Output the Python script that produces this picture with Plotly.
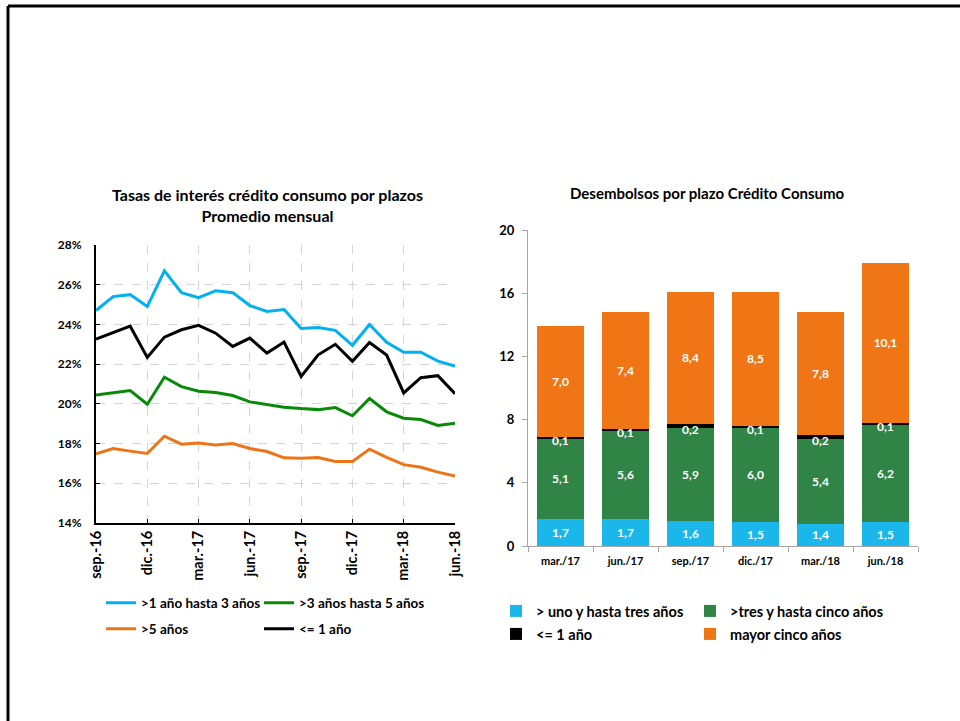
import plotly.graph_objects as go

# ---------------- Data ----------------
months = ["sep.-16", "oct.-16", "nov.-16", "dic.-16", "ene.-17", "feb.-17", "mar.-17",
          "abr.-17", "may.-17", "jun.-17", "jul.-17", "ago.-17", "sep.-17", "oct.-17",
          "nov.-17", "dic.-17", "ene.-18", "feb.-18", "mar.-18", "abr.-18", "may.-18", "jun.-18"]

rate_1a3 = [24.7, 25.4, 25.5, 24.9, 26.7, 25.6, 25.35, 25.7, 25.6, 24.95, 24.65, 24.75,
            23.8, 23.85, 23.7, 22.95, 24.0, 23.1, 22.6, 22.6, 22.15, 21.9]
rate_3a5 = [20.45, 20.57, 20.67, 19.98, 21.34, 20.87, 20.64, 20.57, 20.42, 20.1, 19.98, 19.83,
            19.76, 19.71, 19.81, 19.4, 20.27, 19.6, 19.28, 19.21, 18.91, 19.03]
rate_5 = [17.48, 17.75, 17.62, 17.5, 18.37, 17.97, 18.03, 17.93, 18.0, 17.75, 17.6, 17.28,
          17.26, 17.3, 17.1, 17.1, 17.72, 17.3, 16.94, 16.81, 16.56, 16.37]
rate_le1 = [23.26, 23.6, 23.91, 22.34, 23.36, 23.73, 23.95, 23.56, 22.89, 23.31, 22.56, 23.11,
            21.38, 22.47, 23.0, 22.14, 23.09, 22.46, 20.55, 21.32, 21.42, 20.51]

left_ticks = months[::3]
left_yticks = [14, 16, 18, 20, 22, 24, 26, 28]
left_ytext = [f"{v}%" for v in left_yticks]

quarters = ["mar./17", "jun./17", "sep./17", "dic./17", "mar./18", "jun./18"]
d_1a3 = [1.7, 1.7, 1.6, 1.5, 1.4, 1.5]
d_3a5 = [5.1, 5.6, 5.9, 6.0, 5.4, 6.2]
d_le1 = [0.1, 0.1, 0.2, 0.1, 0.2, 0.1]
d_5 = [7.0, 7.4, 8.4, 8.5, 7.8, 10.1]
right_yticks = [0, 4, 8, 12, 16, 20]

# ---------------- Style ----------------
FONT = "Lato, 'Open Sans', sans-serif"
BLUE = "#00B0F0"
GREEN = "#088A08"
ORANGE = "#EE7418"
BLACK = "#000000"
BAR_BLUE = "#1BB7EA"
BAR_GREEN = "#2F8446"
BAR_ORANGE = "#F07514"

W, H = 960, 721


def px_x(p):
    return p / W


def px_y(p):
    return 1 - p / H


fig = go.Figure()

# Left chart lines (each in its own legend box, laid out in a 2x2 grid)
left_series = [(">1 año hasta 3 años", rate_1a3, BLUE, "legend", 101, 603),
               (">3 años hasta 5 años", rate_3a5, GREEN, "legend2", 259, 603),
               (">5 años", rate_5, ORANGE, "legend3", 101, 629),
               ("<= 1 año", rate_le1, BLACK, "legend4", 259, 629)]
for name, vals, col, lg, _, _ in left_series:
    fig.add_trace(go.Scatter(x=months, y=vals, name=name, mode="lines",
                             line=dict(color=col, width=3),
                             xaxis="x", yaxis="y", legend=lg))

# Right chart stacked bars
bar_text_font = dict(color="white", size=12, family=FONT, weight="bold")
right_series = [("> uno y hasta tres años", d_1a3, BAR_BLUE, True, "legend5", 496, 611),
                (">tres y hasta cinco años", d_3a5, BAR_GREEN, True, "legend6", 690, 611),
                ("<= 1 año", d_le1, BLACK, False, "legend7", 496, 634),
                ("mayor cinco años", d_5, BAR_ORANGE, True, "legend8", 690, 634)]
for name, vals, col, show, lg, _, _ in right_series:
    fig.add_trace(go.Bar(x=quarters, y=vals, name=name,
                         marker=dict(color=col, line=dict(width=0)),
                         text=[f"{v:.1f}".replace(".", ",") for v in vals] if show else None,
                         textposition="inside" if show else "none",
                         insidetextanchor="middle",
                         textfont=bar_text_font,
                         constraintext="none",
                         xaxis="x2", yaxis="y2", legend=lg))

# Labels for the thin black segments
for q, a, b, c in zip(quarters, d_1a3, d_3a5, d_le1):
    fig.add_annotation(x=q, y=a + b, xref="x2", yref="y2", text=f"{c:.1f}".replace(".", ","),
                       showarrow=False, yshift=-2,
                       font=dict(color="white", size=12, family=FONT, weight="bold"))

legend_layout = {}
for s in left_series:
    legend_layout[s[3]] = dict(orientation="v", x=px_x(s[4]), y=px_y(s[5]),
                               xanchor="left", yanchor="middle",
                               font=dict(family=FONT, size=13.5, color="black", weight="bold"),
                               bgcolor="rgba(0,0,0,0)", itemwidth=30, borderwidth=0)
for s in right_series:
    legend_layout[s[4]] = dict(orientation="v", x=px_x(s[5]), y=px_y(s[6]),
                               xanchor="left", yanchor="middle",
                               font=dict(family=FONT, size=14.5, color="black", weight="bold"),
                               bgcolor="rgba(0,0,0,0)", itemwidth=30, borderwidth=0)

fig.update_layout(
    width=W, height=H,
    margin=dict(l=0, r=0, t=0, b=0),
    paper_bgcolor="white", plot_bgcolor="white",
    font=dict(family=FONT, color="black"),
    barmode="stack", bargap=0.28,
    separators=",.",
    showlegend=True,
    xaxis=dict(domain=[px_x(96), px_x(455)], type="category", range=[0, len(months) - 1],
               tickmode="array", tickvals=left_ticks, ticktext=left_ticks,
               tickangle=-90, tickfont=dict(family=FONT, size=14.5, color="black", weight="bold"),
               showline=True, linecolor="black", linewidth=2,
               ticks="inside", ticklen=4, tickcolor="black", tickwidth=1,
               showgrid=True, gridcolor="#D5D5D5", griddash="dash", gridwidth=1,
               automargin=False, anchor="y"),
    yaxis=dict(domain=[px_y(523), px_y(245)], range=[14, 28],
               tickmode="array", tickvals=left_yticks, ticktext=left_ytext,
               tickfont=dict(family=FONT, size=12, color="black", weight="bold"),
               ticklabelstandoff=10,
               showline=True, linecolor="black", linewidth=2,
               ticks="inside", ticklen=4, tickcolor="black", tickwidth=1,
               showgrid=True, gridcolor="#D5D5D5", griddash="dash", gridwidth=1,
               zeroline=False, automargin=False, anchor="x"),
    xaxis2=dict(domain=[px_x(528), px_x(918)], type="category",
                tickfont=dict(family=FONT, size=11, color="black", weight="bold"),
                ticklabelstandoff=5,
                showline=True, linecolor="#A6A6A6", linewidth=1,
                ticks="outside", tickson="boundaries", ticklen=5, tickcolor="#A6A6A6",
                showgrid=False, automargin=False, anchor="y2"),
    yaxis2=dict(domain=[px_y(546), px_y(230)], range=[0, 20],
                tickmode="array", tickvals=right_yticks,
                tickfont=dict(family=FONT, size=13, color="black", weight="bold"),
                ticklabelstandoff=5,
                showline=True, linecolor="#A6A6A6", linewidth=1,
                ticks="outside", ticklen=5, tickcolor="#A6A6A6",
                showgrid=False, zeroline=False, automargin=False, anchor="x2"),
    **legend_layout,
)

# Titles
fig.add_annotation(x=px_x(267), y=px_y(205), xref="paper", yref="paper",
                   text="Tasas de interés crédito consumo por plazos<br>Promedio mensual",
                   showarrow=False, xanchor="center", yanchor="middle",
                   font=dict(family=FONT, size=16, color="black", weight="bold"))
fig.add_annotation(x=px_x(707), y=px_y(193), xref="paper", yref="paper",
                   text="Desembolsos por plazo Crédito Consumo",
                   showarrow=False, xanchor="center", yanchor="middle",
                   font=dict(family=FONT, size=15, color="black", weight="bold"))

# Outer frame (top and left borders)
fig.add_shape(type="line", xref="paper", yref="paper", x0=px_x(8), x1=1.0, y0=px_y(6), y1=px_y(6),
              line=dict(color="black", width=3))
fig.add_shape(type="line", xref="paper", yref="paper", x0=px_x(8), x1=px_x(8), y0=px_y(6), y1=0,
              line=dict(color="black", width=3))

fig.write_html("out.html", config={"displayModeBar": False},
               post_script="document.body.style.margin='0';document.body.style.overflow='hidden';")
